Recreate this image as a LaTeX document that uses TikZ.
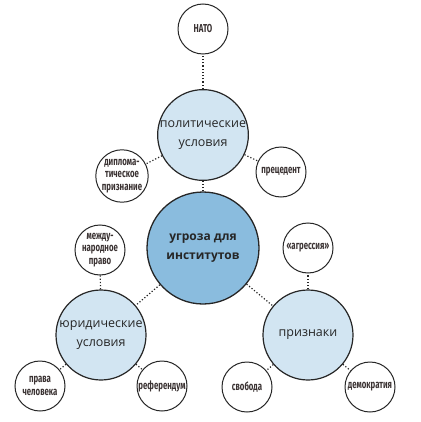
\documentclass[tikz,border=0pt]{standalone}
\usepackage{fontspec}
\usepackage{xcolor}
\usepackage{tikz}
\setmainfont{Open Sans}
\newfontfamily\condfont[FakeStretch=0.68]{Fira Sans}
\definecolor{hubblue}{HTML}{8ABCDE}
\definecolor{subblue}{HTML}{D2E5F2}
\definecolor{leaftext}{HTML}{3A3232}

\begin{document}
\begin{tikzpicture}[x=1pt, y=-1pt,
    hub/.style={circle, draw=black!85, line width=1.3pt, fill=hubblue,
                minimum size=112pt, inner sep=0pt, align=center,
                font=\fontsize{12}{19}\selectfont\bfseries, text=black!85},
    sub/.style={circle, draw=black!85, line width=1.2pt, fill=subblue,
                minimum size=90pt, inner sep=0pt, align=center,
                font=\fontsize{12.5}{19}\selectfont, text=black!85},
    leaf/.style={circle, draw=black!85, line width=1pt, fill=white,
                 minimum size=50pt, inner sep=0pt, align=center,
                 font=\condfont\bfseries\fontsize{11.5}{12.5}\selectfont,
                 text=leaftext},
    link/.style={dotted, line width=1.2pt, black!85},
  ]
    \useasboundingbox (0,0) rectangle (420,422);

    \node[hub] (threat) at (203,248) {угроза для\\институтов};

    % political branch
    \node[sub] (pol) at (203,135) {политические\\условия};
    \node[leaf] (nato) at (203,29) {НАТО};
    \node[leaf, minimum size=47pt] (dipl) at (122,176)
      {диплома-\\тическое\\признание};
    \node[leaf] (prec) at (281,172) {прецедент};

    % legal branch
    \node[sub] (legal) at (101,335) {юридические\\условия};
    \node[leaf] (intl) at (100,250) {между-\\народное\\право};
    \node[leaf] (human) at (40,386) {права\\человека};
    \node[leaf] (ref) at (162,386) {референдум};

    % signs branch
    \node[sub] (signs) at (308,335) {признаки};
    \node[leaf] (aggr) at (308,248) {«агрессия»};
    \node[leaf] (free) at (247,387) {свобода};
    \node[leaf] (demo) at (370,387) {демократия};

    \draw[link] (threat) -- (pol);
    \draw[link] (threat) -- (legal);
    \draw[link] (threat) -- (signs);
    \draw[link] (pol) -- (nato);
    \draw[link] (pol) -- (dipl);
    \draw[link] (pol) -- (prec);
    \draw[link] (legal) -- (intl);
    \draw[link] (legal) -- (human);
    \draw[link] (legal) -- (ref);
    \draw[link] (signs) -- (aggr);
    \draw[link] (signs) -- (free);
    \draw[link] (signs) -- (demo);
\end{tikzpicture}
\end{document}
